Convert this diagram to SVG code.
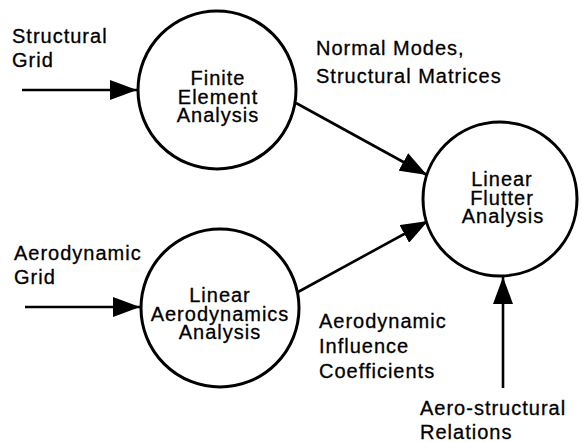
<svg xmlns="http://www.w3.org/2000/svg" width="582" height="442" viewBox="0 0 582 442">
  <style>
    .node { fill: #ffffff; stroke: #000000; stroke-width: 3; }
    .edge { fill: none; stroke: #000000; stroke-width: 2.6; }
    .lbl { font-family: "Liberation Sans", Arial, sans-serif; font-size: 20px; letter-spacing: 1px; fill: #000000; stroke: #000000; stroke-width: 0.3; }
    .mid { text-anchor: middle; }
  </style>
  <defs>
    <marker id="arrowhead" viewBox="0 0 27 20" refX="27" refY="10" markerWidth="27" markerHeight="20" markerUnits="userSpaceOnUse" orient="auto">
      <path d="M0,0 L27,10 L0,20 Z" fill="#000000"/>
    </marker>
  </defs>
  <rect width="582" height="442" fill="#ffffff"/>

  <g id="connectors">
    <line class="edge" x1="22" y1="90" x2="137" y2="90" marker-end="url(#arrowhead)"/>
    <line class="edge" x1="25" y1="307" x2="140" y2="307" marker-end="url(#arrowhead)"/>
    <line class="edge" x1="296" y1="103" x2="427" y2="175" marker-end="url(#arrowhead)"/>
    <line class="edge" x1="298" y1="292" x2="428" y2="221" marker-end="url(#arrowhead)"/>
    <line class="edge" x1="503" y1="388" x2="503" y2="277" marker-end="url(#arrowhead)"/>
  </g>

  <g id="fea">
    <circle class="node" cx="217" cy="90" r="79"/>
    <text class="lbl mid" x="218" y="85">Finite</text>
    <text class="lbl mid" x="218" y="103.5">Element</text>
    <text class="lbl mid" x="218" y="122">Analysis</text>
  </g>

  <g id="aero">
    <circle class="node" cx="220" cy="308" r="79"/>
    <text class="lbl mid" x="220" y="302">Linear</text>
    <text class="lbl mid" x="220" y="320.5">Aerodynamics</text>
    <text class="lbl mid" x="220" y="339">Analysis</text>
  </g>

  <g id="flutter">
    <circle class="node" cx="500" cy="199" r="77"/>
    <text class="lbl mid" x="502" y="186">Linear</text>
    <text class="lbl mid" x="502" y="204.5">Flutter</text>
    <text class="lbl mid" x="503" y="223">Analysis</text>
  </g>

  <g id="labels">
    <text class="lbl" x="12" y="43">Structural</text>
    <text class="lbl" x="12" y="67">Grid</text>
    <text class="lbl" x="316" y="55">Normal Modes,</text>
    <text class="lbl" x="316" y="83">Structural Matrices</text>
    <text class="lbl" x="14" y="260">Aerodynamic</text>
    <text class="lbl" x="14" y="284">Grid</text>
    <text class="lbl" x="319" y="328">Aerodynamic</text>
    <text class="lbl" x="319" y="353">Influence</text>
    <text class="lbl" x="319" y="378">Coefficients</text>
    <text class="lbl" x="420" y="415">Aero-structural</text>
    <text class="lbl" x="420" y="439">Relations</text>
  </g>
</svg>
